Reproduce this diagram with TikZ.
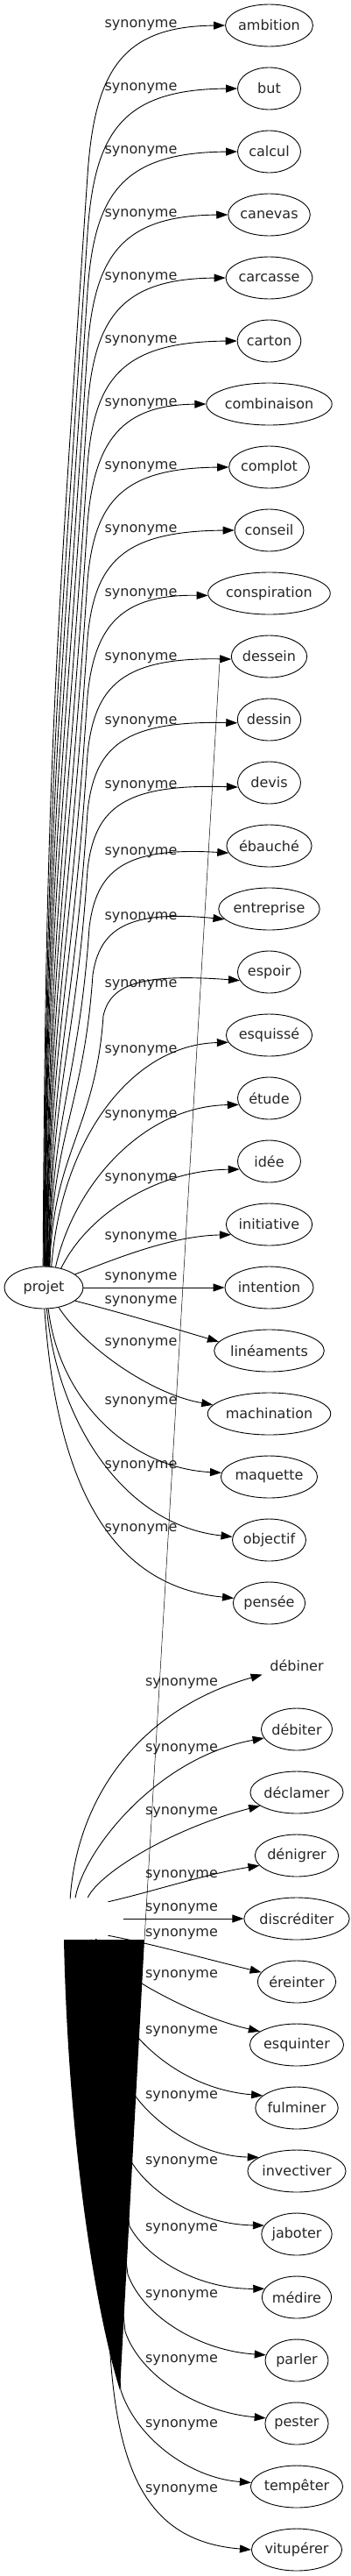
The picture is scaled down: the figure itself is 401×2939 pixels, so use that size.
\documentclass[tikz,border=0pt]{standalone}
\usepackage{fontspec}
\setmainfont{DejaVu Sans}
\usetikzlibrary{shapes.geometric,arrows.meta,calc}
\newcommand\tnfont{\fontsize{16}{19}\selectfont}
\newlength\tnw
\begin{document}
\begin{tikzpicture}[x=1pt,y=-1pt,
  tgt/.style={ellipse, draw, line width=0.9pt, inner sep=0pt, minimum height=48pt, font=\tnfont, text=black!85},
  hid/.style={ellipse, draw=none, inner sep=0pt, minimum width=90pt, minimum height=48pt},
  lbl/.style={font=\tnfont, inner sep=0pt, text=black!85},
  edge/.style={line width=0.9pt, -{Triangle[length=13pt,width=9pt]}},
  thinln/.style={line width=0.5pt}]
\useasboundingbox (0,0) rectangle (401,2939);
\newcommand\tn[5][]{\settowidth\tnw{\tnfont #5}%
  \pgfmathsetlengthmacro\tnmw{max(1.25*\tnw+30pt,72pt)}%
  \node[tgt, minimum width=\tnmw, #1] (#2) at (#3,#4) {#5};}
\newcommand\lb[3]{\node[lbl] (#1) at (#2,#3) {synonyme};}
\newcommand\fe[6]{%
  \pgfmathsetmacro\pY{#3+#5}%
  \pgfmathsetmacro\hh{0.45*(1445-\pY)}%
  \pgfmathsetmacro\cTx{#6-0.067*\hh}%
  \pgfmathsetmacro\cTy{\pY+\hh}%
  \pgfmathsetmacro\cAy{#3+0.3*#5}%
  \pgfmathsetmacro\cAx{#6+8}%
  \pgfmathsetmacro\cBy{#3+1}%
  \pgfmathsetmacro\cBx{#6+40}%
  \draw[edge] (projet.#2) .. controls ($(projet.#2)+(3,-\hh)$) and (\cTx,\cTy) .. (#6,\pY) .. controls (\cAx,\cAy) and (\cBx,\cBy) .. (#1.#4);}

% ---- first cluster ----
\node[tgt, minimum width=90pt] (projet) at (50,1469) {projet};
\tn{ambition}{307.5}{29}{ambition}
\tn{but}{307.5}{101}{but}
\tn{calcul}{307.5}{173}{calcul}
\tn{canevas}{307.5}{245}{canevas}
\tn{carcasse}{307.5}{317}{carcasse}
\tn{carton}{307.5}{389}{carton}
\tn{combinaison}{307.5}{461}{combinaison}
\tn{complot}{307.5}{533}{complot}
\tn{conseil}{307.5}{605}{conseil}
\tn{conspiration}{307.5}{677}{conspiration}
\tn{dessein}{307.5}{749}{dessein}
\tn{dessin}{307.5}{821}{dessin}
\tn{devis}{307.5}{893}{devis}
\tn{ebauche}{307.5}{965}{ébauché}
\tn{entreprise}{307.5}{1037}{entreprise}
\tn{espoir}{307.5}{1109}{espoir}
\tn{esquisse}{307.5}{1181}{esquissé}
\tn{etude}{307.5}{1253}{étude}
\tn{idee}{307.5}{1325}{idée}
\tn{initiative}{307.5}{1397}{initiative}
\tn{intention}{307.5}{1469}{intention}
\tn{lineaments}{307.5}{1541}{linéaments}
\tn{machination}{307.5}{1613}{machination}
\tn{maquette}{307.5}{1685}{maquette}
\tn{objectif}{307.5}{1757}{objectif}
\tn{pensee}{307.5}{1829}{pensée}

\lb{l1}{161}{29}\lb{l2}{161}{101}\lb{l3}{161}{173}\lb{l4}{161}{245}
\lb{l5}{161}{317}\lb{l6}{161}{389}\lb{l7}{161}{461}\lb{l8}{161}{533}
\lb{l9}{161}{605}\lb{l10}{161}{678}\lb{l11}{161}{751}\lb{l12}{161}{824}
\lb{l13}{161}{897}\lb{l14}{161}{973}\lb{l15}{161}{1047}\lb{l16}{161}{1124}
\lb{l17}{161}{1199}\lb{l18}{161}{1273}\lb{l19}{161}{1345}\lb{l20}{161}{1412}
\lb{l21}{161}{1458}\lb{l22}{161}{1485}\lb{l23}{161}{1533}\lb{l24}{161}{1600}
\lb{l25}{161}{1673}\lb{l26}{161}{1745}

\fe{ambition}{92}{29}{180}{171}{100}
\fe{but}{90.8}{101}{180}{165}{100}
\fe{calcul}{89.6}{173}{180}{159}{100}
\fe{canevas}{88.4}{245}{180}{153}{100}
\fe{carcasse}{87.2}{317}{180}{147}{100}
\fe{carton}{86}{389}{180}{141}{100}
\fe{combinaison}{84.8}{461}{180}{135}{100}
\fe{complot}{83.6}{533}{180}{129}{100}
\fe{conseil}{82.4}{605}{180}{123}{100}
\fe{conspiration}{81.2}{677}{182}{117}{100}
\fe{dessein}{80}{749}{184}{111}{100}
\fe{dessin}{78.8}{821}{186}{105}{100}
\fe{devis}{77.6}{893}{188}{99}{100}
\fe{ebauche}{76.4}{965}{190}{93}{102}
\fe{entreprise}{75.2}{1037}{193}{75}{106}
\fe{espoir}{74}{1109}{196}{50}{118}
\draw[edge] (projet.70) .. controls (70,1300) and (150,1192) .. (esquisse.190);
\draw[edge] (projet.60) .. controls (85,1350) and (165,1262) .. (etude.192);
\draw[edge] (projet.48) .. controls (100,1385) and (180,1335) .. (idee.195);
\draw[edge] (projet.23) .. controls (130,1437) and (195,1410) .. (initiative.195);
\draw[edge] (projet.east) -- (intention.west);
\draw[edge] (projet.-23) .. controls (140,1498) and (200,1516) .. (lineaments.170);
\draw[edge] (projet.-53) .. controls (95,1535) and (170,1590) .. (machination.171);
\draw[edge] (projet.-78) .. controls (68,1600) and (150,1675) .. (maquette.175);
\draw[edge] (projet.-82) .. controls (65,1620) and (140,1740) .. (objectif.175);
\draw[edge] (projet.-88) .. controls (65,1700) and (130,1810) .. (pensee.172);

% ---- second cluster ----
\node[hid] (H) at (96,2189) {};
\tn[draw=none]{debiner}{339}{1900}{débiner}
\tn{debiter}{339}{1973}{débiter}
\tn{declamer}{339}{2045}{déclamer}
\tn{denigrer}{339}{2117}{dénigrer}
\tn{discrediter}{339}{2189}{discréditer}
\tn{ereinter}{339}{2261}{éreinter}
\tn{esquinter}{339}{2333}{esquinter}
\tn{fulminer}{339}{2405}{fulminer}
\tn{invectiver}{339}{2477}{invectiver}
\tn{jaboter}{339}{2549}{jaboter}
\tn{medire}{339}{2621}{médire}
\tn{parler}{339}{2693}{parler}
\tn{pester}{339}{2765}{pester}
\tn{tempeter}{339}{2837}{tempêter}
\tn{vituperer}{339}{2909}{vitupérer}

\lb{m1}{207.5}{1921}\lb{m2}{207.5}{1996}\lb{m3}{207.5}{2068}\lb{m4}{207.5}{2140}
\lb{m5}{207.5}{2178}\lb{m6}{207.5}{2207}\lb{m7}{207.5}{2254}\lb{m8}{207.5}{2318}
\lb{m9}{207.5}{2392}\lb{m10}{207.5}{2467}\lb{m11}{207.5}{2543}\lb{m12}{207.5}{2619}
\lb{m13}{207.5}{2693}\lb{m14}{207.5}{2767}\lb{m15}{207.5}{2841}

\draw[edge] (H.125) .. controls (88,2050) and (160,1950) .. (debiner.195);
\draw[edge] (H.113) .. controls (96,2110) and (180,2005) .. (debiter.195);
\draw[edge] (H.80) .. controls (115,2135) and (200,2085) .. (declamer.200);
\draw[edge] (H.35) .. controls (175,2158) and (235,2138) .. (denigrer.195);
\draw[edge] (H.east) -- (discrediter.west);
\draw[edge] (H.-35) .. controls (175,2218) and (235,2235) .. (ereinter.165);
\draw[edge] (H.-60) -- (162,2263) .. controls (190,2280) and (240,2305) .. (esquinter.160);
\draw[edge] (H.-70) -- (158,2325) .. controls (185,2355) and (230,2385) .. (fulminer.160);
\draw[edge] (H.-75) -- (155,2392) .. controls (180,2425) and (230,2460) .. (invectiver.160);
\draw[edge] (H.-80) -- (151,2468) .. controls (175,2505) and (230,2538) .. (jaboter.165);
\draw[edge] (H.-84) -- (148,2540) .. controls (170,2580) and (230,2612) .. (medire.165);
\draw[edge] (H.-88) -- (146,2595) .. controls (165,2645) and (230,2682) .. (parler.170);
\draw[edge] (H.-92) -- (143,2660) .. controls (160,2710) and (225,2752) .. (pester.170);
\draw[edge] (H.-96) -- (138,2727) .. controls (155,2780) and (215,2827) .. (tempeter.175);
\draw[edge] (H.-100) -- (127,2700) .. controls (138,2830) and (175,2900) .. (vituperer.180);

\coordinate (K) at (165,2213);
\fill[black] (73,2213) -- (K) -- (137,2727) .. controls (110,2640) and (78,2450) .. (73,2213) -- cycle;
\draw[thinln] ($(dessein.west)+(-13,8)$) -- (K);
\end{tikzpicture}
\end{document}
